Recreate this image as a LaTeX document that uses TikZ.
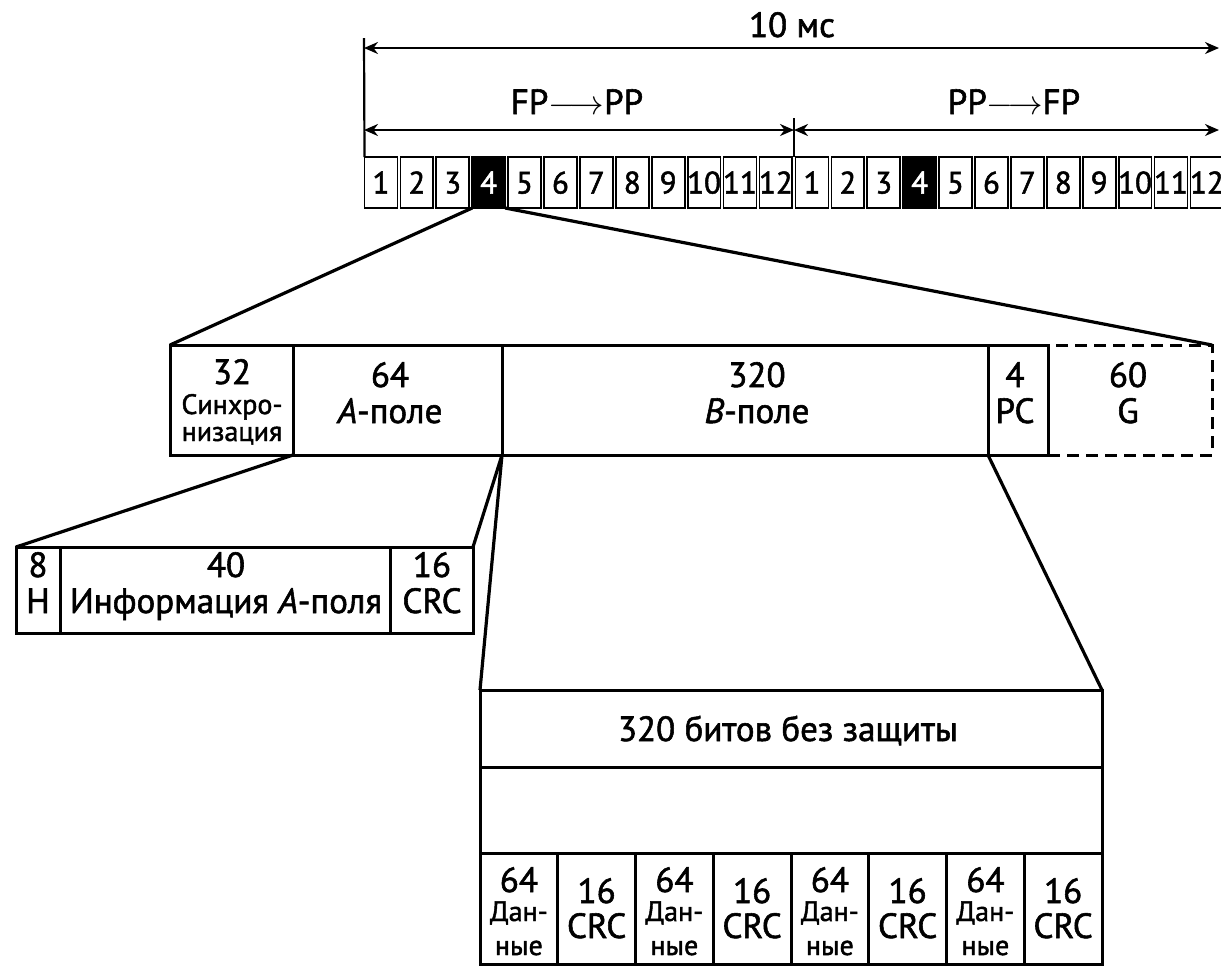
\documentclass[tikz,border=0pt]{standalone}
\usepackage{fontspec}
\setmainfont{PT Sans}[FakeBold=1.6]
\usetikzlibrary{arrows.meta}
\begin{document}
\begin{tikzpicture}[x=0.5pt,y=-0.5pt,
  box/.style={draw, line width=1.5pt, inner sep=0pt, outer sep=0pt, anchor=north west},
  slotbox/.style={draw, line width=0.9pt, inner sep=0pt, outer sep=0pt, anchor=north west,
    minimum width=16.45pt, minimum height=25.5pt},
  txt/.style={inner sep=0pt, anchor=base, font=\fontsize{17.5}{20}\selectfont},
  toptxt/.style={inner sep=0pt, anchor=base, font=\fontsize{17.5}{20}\selectfont},
  slottxt/.style={inner sep=0pt, anchor=base, font=\fontsize{15.5}{18}\selectfont},
  smalltxt/.style={inner sep=0pt, anchor=base, font=\fontsize{14}{16}\selectfont},
  tinytxt/.style={inner sep=0pt, anchor=base, font=\fontsize{14}{15}\selectfont},
  dimline/.style={line width=1.1pt, {Stealth[length=7pt,width=6pt]}-{Stealth[length=7pt,width=6pt]}},
  plainline/.style={line width=1.1pt},
  fan/.style={line width=1.6pt},
  gdash/.style={dash pattern=on 6pt off 3.5pt}]
\useasboundingbox (0,0) rectangle (1221,966);

% ---- time slots ----
\foreach \i in {1,...,24} {
  \pgfmathsetmacro\xa{\i<13 ? 363+(\i-1)*35.9+1.5 : 794+(\i-13)*35.9+1.5}
  \pgfmathtruncatemacro\lab{\i<13 ? \i : \i-12}
  \ifnum\lab=4 \def\fc{black}\def\tc{white}\else\def\fc{white}\def\tc{black}\fi
  \node[slotbox, fill=\fc] (s\i) at (\xa,157) {};
  \node[slottxt, text=\tc] (n\i) at ([yshift=-5.5pt]s\i.center) {\lab};
}

% ---- dimension arrows ----
\coordinate (tl) at (364,38);
\draw[plainline] (tl) -- (s1.north west);
\coordinate (a1) at (364,48);
\coordinate (a2) at (1219,48);
\draw[dimline] (a1) -- (a2);
\node[toptxt] (t10) at (792,37) {10 мс};
\coordinate (dv) at (794,118);
\coordinate (dvb) at (794,157);
\draw[plainline] (dv) -- (dvb);
\coordinate (b1) at (364,130);
\coordinate (b2) at (794,130);
\coordinate (b3) at (1219,130);
\draw[dimline] (b1) -- (b2);
\draw[dimline] (b2) -- (b3);
\node[toptxt] (fp) at (577,114) {FP$\longrightarrow$PP};
\node[toptxt] (pp) at (1014,114) {PP$\longrightarrow$FP};

% ---- slot structure ----
\node[box, gdash, minimum width=82pt, minimum height=55pt] (g) at (1048,345) {};
\node[box, minimum width=61.5pt, minimum height=55pt] (sync) at (170,345) {};
\node[box, minimum width=104.5pt, minimum height=55pt] (af) at (293,345) {};
\node[box, minimum width=243pt, minimum height=55pt] (bf) at (502,345) {};
\node[box, minimum width=30pt, minimum height=55pt] (pc) at (988,345) {};

\node[txt] (t32) at (232,384) {32};
\node[smalltxt] (tsy1) at (232,414) {Синхро-};
\node[smalltxt] (tsy2) at (232,441) {низация};
\node[txt] (t64) at (390,387) {64};
\node[txt] (tA) at (390,423) {\textit{A}-поле};
\node[txt] (t320) at (757,387) {320};
\node[txt] (tB) at (757,423) {\textit{B}-поле};
\node[txt] (t4) at (1015,387) {4};
\node[txt] (tPC) at (1015,423) {PC};
\node[txt] (t60) at (1128,387) {60};
\node[txt] (tG) at (1128,423) {G};

\draw[fan] (s4.south west) -- (sync.north west);
\draw[fan] (s4.south east) -- (g.north east);

% ---- A-field ----
\node[box, minimum width=22pt, minimum height=43pt] (h) at (16,547) {};
\node[box, minimum width=165pt, minimum height=43pt] (info) at (60,547) {};
\node[box, minimum width=41.5pt, minimum height=43pt] (crc) at (390,547) {};
\node[txt] (t8) at (38,577) {8};
\node[txt] (tH) at (38,613) {H};
\node[txt] (t40) at (226,577) {40};
\node[txt] (tinfo) at (226,613) {Информация \textit{A}-поля};
\node[txt] (t16) at (432,577) {16};
\node[txt] (tcrc) at (432,613) {CRC};

\draw[fan] (sync.south east) -- (h.north west);
\draw[fan] (af.south east) -- (crc.north east);

% ---- B-field ----
\node[box, minimum width=311pt, minimum height=38.5pt] (bx1) at (480,690) {};
\node[box, minimum width=311pt, minimum height=43pt] (bx2) at (480,767) {};
\node[toptxt] (tbits) at (788,741) {320 битов без защиты};
\foreach \k in {0,...,7} {
  \pgfmathsetmacro\xc{480+\k*77.75}
  \node[box, minimum width=38.875pt, minimum height=55.5pt] (c\k) at (\xc,853) {};
}
\foreach \k in {0,2,4,6} {
  \node[txt] (d\k a) at ([yshift=-19.5pt]c\k.north) {64};
  \node[tinytxt] (d\k b) at ([yshift=-34pt]c\k.north) {Дан-};
  \node[tinytxt] (d\k c) at ([yshift=-51pt]c\k.north) {ные};
}
\foreach \k in {1,3,5,7} {
  \node[txt] (d\k a) at ([yshift=-25pt]c\k.north) {16};
  \node[txt] (d\k b) at ([yshift=-42.5pt]c\k.north) {CRC};
}

\draw[fan] (af.south east) -- (bx1.north west);
\draw[fan] (pc.south west) -- (bx1.north east);
\end{tikzpicture}
\end{document}
